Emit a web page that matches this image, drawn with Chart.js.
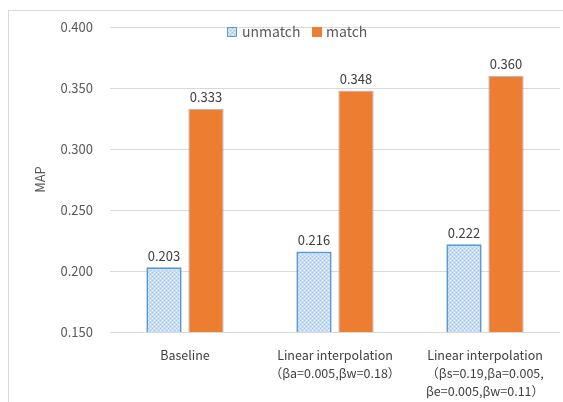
<!DOCTYPE html>
<html>
<head>
<meta charset="UTF-8" />
<title>MAP chart</title>
<script src="https://cdn.jsdelivr.net/npm/chart.js"></script>
<style>
  *{box-sizing:border-box}
  body{margin:0;background:#fff;}
  .wrap{position:relative;width:563px;height:402px;}
  .frame{position:absolute;left:8px;top:10px;right:-2px;bottom:-2px;border:1px solid #d9d9d9;pointer-events:none;}
</style>
</head>
<body>
<div class="wrap">
  <canvas id="chart" width="563" height="402"></canvas>
  <div class="frame"></div>
</div>
<script>
  const categories = [
    "Baseline",
    ["Linear interpolation", "（βa=0.005,βw=0.18）"],
    ["Linear interpolation", "（βs=0.19,βa=0.005,", "βe=0.005,βw=0.11）"]
  ];
  const unmatchValues = [0.203, 0.216, 0.222];
  const matchValues = [0.333, 0.348, 0.360];
  const seriesNames = ["unmatch", "match"];
  const yTicks = [0.150, 0.200, 0.250, 0.300, 0.350, 0.400];

  const FONT = "'Noto Sans CJK SC', 'Noto Sans', sans-serif";

  // small checker / dot fill like the Excel pattern
  function makePattern(){
    const p = document.createElement("canvas");
    p.width = 4; p.height = 4;
    const c = p.getContext("2d");
    c.fillStyle = "#c9ddf2";
    c.fillRect(0,0,4,4);
    c.fillStyle = "#a9c9ea";
    c.fillRect(0,0,1,1);
    c.fillRect(2,2,1,1);
    c.fillStyle = "#eef5fc";
    c.fillRect(2,0,1,1);
    c.fillRect(0,2,1,1);
    return c.createPattern(p, "repeat");
  }
  const bluePattern = makePattern();

  const valueLabels = {
    id: "valueLabels",
    afterDatasetsDraw(chart){
      const ctx = chart.ctx;
      ctx.save();
      ctx.font = "13px " + FONT;
      ctx.fillStyle = "#404040";
      ctx.textAlign = "center";
      ctx.textBaseline = "bottom";
      chart.data.datasets.forEach((ds, i) => {
        chart.getDatasetMeta(i).data.forEach((bar, j) => {
          ctx.fillText(ds.data[j].toFixed(3), bar.x, bar.y - 5);
        });
      });
      ctx.restore();
    }
  };

  const topLegend = {
    id: "topLegend",
    afterDraw(chart){
      const ctx = chart.ctx;
      ctx.save();
      ctx.font = "14px " + FONT;
      ctx.textBaseline = "middle";
      const y = 32;
      // unmatch
      ctx.fillStyle = bluePattern;
      ctx.fillRect(227, y - 5, 10, 10);
      ctx.strokeStyle = "#5b9bd5";
      ctx.lineWidth = 1;
      ctx.strokeRect(227.5, y - 4.5, 9, 9);
      ctx.fillStyle = "#595959";
      ctx.fillText(seriesNames[0], 242, y);
      // match
      ctx.fillStyle = "#ed7d31";
      ctx.fillRect(312, y - 5, 10, 10);
      ctx.fillStyle = "#595959";
      ctx.fillText(seriesNames[1], 326, y);
      ctx.restore();
    }
  };

  new Chart(document.getElementById("chart"), {
    type: "bar",
    data: {
      labels: categories,
      datasets: [
        {
          label: seriesNames[0],
          data: unmatchValues,
          backgroundColor: bluePattern,
          borderColor: "#5b9bd5",
          borderWidth: 2,
          categoryPercentage: 0.56,
          barPercentage: 0.84
        },
        {
          label: seriesNames[1],
          data: matchValues,
          backgroundColor: "#ed7d31",
          borderColor: "#a6b8d6",
          borderWidth: 1,
          categoryPercentage: 0.56,
          barPercentage: 0.84
        }
      ]
    },
    options: {
      responsive: false,
      animation: false,
      layout: { padding: { top: 27, right: 3, left: 0, bottom: 0 } },
      plugins: {
        legend: { display: false },
        tooltip: { enabled: false }
      },
      scales: {
        x: {
          grid: { display: false },
          border: { display: false },
          ticks: {
            color: "#404040",
            font: { family: FONT, size: 12.5, lineHeight: 1.45 },
            maxRotation: 0,
            autoSkip: false,
            padding: 6
          },
          afterFit(scale){ scale.height = 70; }
        },
        y: {
          min: 0.15,
          max: 0.4,
          afterBuildTicks(scale){ scale.ticks = yTicks.map(v => ({ value: v })); },
          grid: { color: "#d9d9d9", lineWidth: 1, drawTicks: false },
          border: { display: false },
          ticks: {
            color: "#595959",
            font: { family: FONT, size: 13 },
            padding: 17,
            callback: v => Number(v).toFixed(3)
          },
          title: {
            display: true,
            text: "MAP",
            color: "#595959",
            font: { family: FONT, size: 13 },
            padding: { top: 32, bottom: 0 }
          },
          afterFit(scale){ scale.width = 110; }
        }
      }
    },
    plugins: [valueLabels, topLegend]
  });
</script>
</body>
</html>
